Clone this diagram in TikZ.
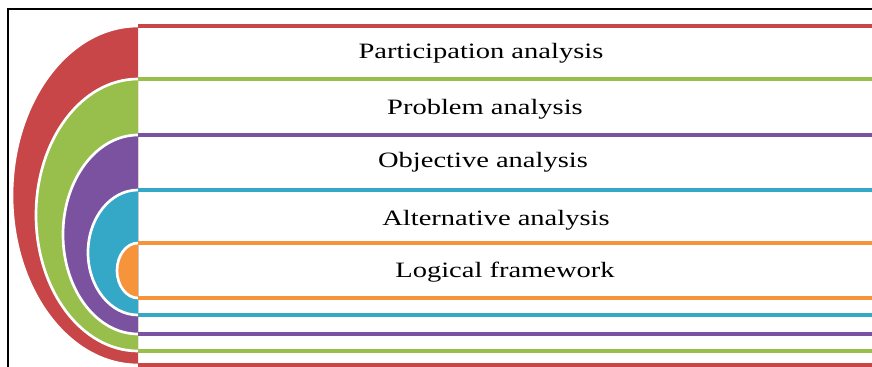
\documentclass[tikz,border=0pt]{standalone}
\usepackage{fontspec}
\newfontfamily\rowfont[FakeStretch=1.3]{Liberation Serif}
\usepackage{tikz}
\usetikzlibrary{positioning}
\definecolor{bandred}{RGB}{200,70,72}
\definecolor{bandgreen}{RGB}{152,190,76}
\definecolor{bandpurple}{RGB}{122,82,160}
\definecolor{bandcyan}{RGB}{52,168,198}
\definecolor{bandorange}{RGB}{245,148,58}
\tikzset{
  frame line/.style={black,line width=1.5pt},
  band line/.style={#1,line width=2.8pt},
  band gap/.style={white,line width=1.9pt},
  row label/.style={anchor=base,inner sep=0pt,font=\rowfont\fontsize{15.6}{18}\selectfont},
}

\begin{document}
\begin{tikzpicture}[x=0.025cm,y=-0.025cm]
  \useasboundingbox (0,0) rectangle (872,367);
  % nested half discs, largest first
  \foreach \col/\rx/\top/\bot in {bandred/126/26/365,bandgreen/102/79/351,bandpurple/75/135/334,bandcyan/50/190/315,bandorange/21/243/298}{
    \pgfmathsetmacro{\ry}{(\bot-\top)/2}
    \fill[\col] (138,\bot) arc[start angle=90,end angle=270,x radius=\rx,y radius=\ry] -- cycle;
    \draw[band gap] (138,\bot) arc[start angle=90,end angle=270,x radius=\rx,y radius=\ry];
  }
  % horizontal stripes
  \foreach \col/\top/\bot in {bandred/26/365,bandgreen/79/351,bandpurple/135/334,bandcyan/190/315,bandorange/243/298}{
    \draw[band line=\col] (138,\top) -- (872,\top);
    \draw[band line=\col] (138,\bot) -- (872,\bot);
  }
  % frame
  \draw[frame line] (8,367) -- (8,9) -- (872,9);
  % row labels
  \node[row label] (part) at (481,59) {Participation analysis};
  \node[row label] (prob) at (485,115) {Problem analysis};
  \node[row label] (obj) at (483,167) {Objective analysis};
  \node[row label] (alt) at (496,225) {Alternative analysis};
  \node[row label] (logf) at (505,277) {Logical framework};
\end{tikzpicture}
\end{document}
